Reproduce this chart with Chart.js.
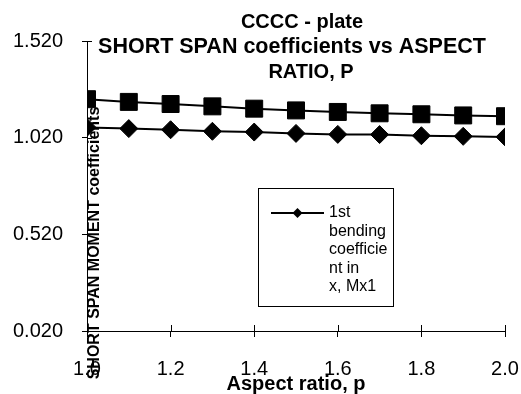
<!DOCTYPE html>
<html><head><meta charset="utf-8">
<script src="https://cdn.jsdelivr.net/npm/chart.js@4.4.1/dist/chart.umd.min.js"></script>
<style>html,body{margin:0;padding:0;background:#fff;}#wrap{width:521px;height:394px;position:relative;}</style>
</head><body><div id="wrap"><canvas id="c" width="521" height="394"></canvas></div>
<script>
const aspectRatios = [1.0, 1.1, 1.2, 1.3, 1.4, 1.5, 1.6, 1.7, 1.8, 1.9, 2.0];
const mx1 = [1.073, 1.067, 1.061, 1.053, 1.049, 1.042, 1.037, 1.036, 1.030, 1.027, 1.024];
const mx2 = [1.219, 1.205, 1.194, 1.182, 1.170, 1.161, 1.153, 1.146, 1.141, 1.135, 1.131];
const xTicks = [1.0, 1.2, 1.4, 1.6, 1.8, 2.0];
const yTicks = [0.02, 0.52, 1.02, 1.52];
const titleLines = ['CCCC - plate', 'SHORT SPAN coefficients vs ASPECT', 'RATIO, P'];
const xTitle = 'Aspect ratio, p';
const yTitle = 'SHORT SPAN MOMENT coefficients';
const series1Name = '1st bending coefficient in x, Mx1';
const series2Name = '2nd bending coefficient in x, Mx2';
const legendLines = ['1st', 'bending', 'coefficie', 'nt in', 'x, Mx1'];

const FONT = 'Arial, "Liberation Sans", sans-serif';

const textPlugin = {
  id: 'texts',
  beforeDatasetsDraw(chart) {
    const ctx = chart.ctx;
    const area = chart.chartArea;
    ctx.save();
    ctx.fillStyle = '#000';
    ctx.translate(area.left + 8, 243);
    ctx.rotate(-Math.PI / 2);
    ctx.font = 'bold 16px ' + FONT;
    ctx.textAlign = 'center';
    ctx.textBaseline = 'middle';
    ctx.fillText(yTitle, 0, 0);
    ctx.restore();
  },
  afterDraw(chart) {
    const ctx = chart.ctx;
    const area = chart.chartArea;
    const xs = chart.scales.x, ys = chart.scales.y;
    ctx.save();
    ctx.strokeStyle = '#000';
    ctx.lineWidth = 1;
    ctx.beginPath();
    xs.ticks.forEach(t => {
      const px = Math.round(xs.getPixelForValue(t.value)) + 0.5;
      ctx.moveTo(px, area.bottom);
      ctx.lineTo(px, area.bottom - 6);
    });
    ys.ticks.forEach(t => {
      const py = Math.round(ys.getPixelForValue(t.value)) + 0.5;
      ctx.moveTo(area.left, py);
      ctx.lineTo(area.left + 5, py);
    });
    ctx.stroke();

    ctx.fillStyle = '#000';
    ctx.textAlign = 'center';
    ctx.textBaseline = 'middle';
    const tc = [302, 292, 311];
    const ty = [22, 47, 72];
    const ts = [20, 21.5, 20];
    titleLines.forEach((l, i) => {
      ctx.font = 'bold ' + ts[i] + 'px ' + FONT;
      ctx.fillText(l, tc[i], ty[i]);
    });

    ctx.font = 'bold 20px ' + FONT;
    ctx.fillText(xTitle, 296, 384);

    const L = 258, T = 188, R = 394, B = 307;
    ctx.fillStyle = '#fff';
    ctx.fillRect(L, T, R - L, B - T);
    ctx.strokeStyle = '#000';
    ctx.lineWidth = 1;
    ctx.strokeRect(L + 0.5, T + 0.5, R - L - 1, B - T - 1);
    ctx.lineWidth = 2;
    ctx.beginPath();
    ctx.moveTo(271, 213);
    ctx.lineTo(324, 213);
    ctx.stroke();
    ctx.fillStyle = '#000';
    ctx.beginPath();
    ctx.moveTo(297.5 - 5, 213);
    ctx.lineTo(297.5, 208);
    ctx.lineTo(297.5 + 5, 213);
    ctx.lineTo(297.5, 218);
    ctx.closePath();
    ctx.fill();
    ctx.font = '16px ' + FONT;
    ctx.textAlign = 'left';
    legendLines.forEach((l, i) => ctx.fillText(l, 329, 213 + i * 18.5));
    ctx.restore();
  }
};

const toPts = (ys) => aspectRatios.map((x, i) => ({x: x, y: ys[i]}));

new Chart(document.getElementById('c'), {
  type: 'line',
  data: {
    datasets: [
      {
        label: series1Name,
        data: toPts(mx1),
        borderColor: '#000',
        backgroundColor: '#000',
        borderWidth: 2,
        pointStyle: 'rectRot',
        pointRadius: 9,
        pointBorderWidth: 1,
        pointBackgroundColor: '#000',
        pointBorderColor: '#000',
        tension: 0
      },
      {
        label: series2Name,
        data: toPts(mx2),
        borderColor: '#000',
        backgroundColor: '#000',
        borderWidth: 2,
        pointStyle: 'rect',
        pointRadius: 12,
        pointBorderWidth: 1,
        pointBackgroundColor: '#000',
        pointBorderColor: '#000',
        tension: 0
      }
    ]
  },
  options: {
    responsive: false,
    devicePixelRatio: 1,
    animation: false,
    layout: {padding: {top: 41, right: 16, left: 0, bottom: 0}},
    plugins: {legend: {display: false}, title: {display: false}, tooltip: {enabled: false}},
    scales: {
      x: {
        type: 'linear',
        min: 1.0,
        max: 2.0,
        afterBuildTicks: s => { s.ticks = xTicks.map(v => ({value: v})); },
        afterFit: s => { s.height = 63; s.paddingLeft = 0; s.paddingRight = 0; },
        ticks: {
          callback: v => Number(v).toFixed(1),
          font: {family: FONT, size: 20},
          color: '#000',
          padding: 20,
          maxRotation: 0,
          autoSkip: false
        },
        grid: {drawOnChartArea: false, drawTicks: true, tickLength: 6, color: '#000', lineWidth: 1},
        border: {display: true, color: '#000', width: 1}
      },
      y: {
        type: 'linear',
        min: 0.02,
        max: 1.52,
        afterBuildTicks: s => { s.ticks = yTicks.map(v => ({value: v})); },
        afterFit: s => { s.width = 87; s.paddingTop = 0; s.paddingBottom = 0; },
        ticks: {
          callback: v => Number(v).toFixed(3),
          font: {family: FONT, size: 20},
          color: '#000',
          padding: 19,
          autoSkip: false
        },
        grid: {drawOnChartArea: false, drawTicks: true, tickLength: 5, color: '#000', lineWidth: 1},
        border: {display: true, color: '#000', width: 1}
      }
    }
  },
  plugins: [textPlugin]
});
</script>
</body></html>
